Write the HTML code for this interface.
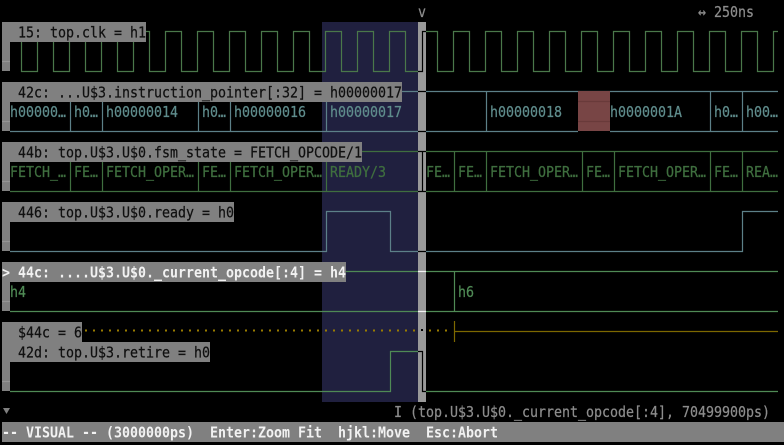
<!DOCTYPE html>
<html><head><meta charset="utf-8"><style>
html,body{margin:0;padding:0;background:#000;width:784px;height:445px;overflow:hidden}
svg{display:block}
text{font-family:"DejaVu Sans Mono","Liberation Mono",monospace;font-size:15.5px;stroke-width:.25px}
.l{fill:#101010;stroke:#101010}.t{fill:#5f8c8c;stroke:#5f8c8c}.g{fill:#3f6f3f;stroke:#3f6f3f}.o{fill:#4f8a55;stroke:#4f8a55}.d{fill:#8c8c8c;stroke:#8c8c8c}
.b{fill:#f2f2f2;font-weight:bold}
path.w,line{fill:none;stroke-width:1.2px}
</style></head><body>
<svg width="784" height="445" viewBox="0 0 784 445" xmlns="http://www.w3.org/2000/svg">
<rect x="322" y="22" width="96" height="380" fill="#20203f"/>

<!-- clk -->
<path class="w" stroke="#4a784a" d="M10 31.5H21.5
v40h16v-40h16 v40h16v-40h16 v40h16v-40h16 v40h16v-40h16 v40h16v-40h16
v40h16v-40h16 v40h16v-40h16 v40h16v-40h16 v40h16v-40h16 v40h16v-40h16
v40h16v-40h16 v40h16v-40h16 v40h16v-40h16 v40h16v-40h16 v40h16v-40h16
v40h16v-40h16 v40h16v-40h16 v40h16v-40h16 v40h16v-40h16 v40h16v-40h16
v40h16v-40h16 v40h16v-40h16 v40h16v-40h16
v40h16v-40h4.5"/>

<!-- bus -->
<path class="w" stroke="#5c8088" d="M10 91.5H778M10 131.5H778M70.5 91v40M102.5 91v40M198.5 91v40M230.5 91v40M326.5 91v40M486.5 91v40M710.5 91v40M742.5 91v40"/>
<rect x="578" y="130" width="32" height="3" fill="#000"/>
<rect x="578" y="91" width="32" height="40" fill="#784545"/>
<path class="w" d="M578 101.5H610M578 121.5H610" stroke="#693a3a"/>
<text class="t" x="10" y="117" textLength="56" lengthAdjust="spacingAndGlyphs">h00000…</text>
<text class="t" x="74" y="117" textLength="24" lengthAdjust="spacingAndGlyphs">h0…</text>
<text class="t" x="106" y="117" textLength="72" lengthAdjust="spacingAndGlyphs">h00000014</text>
<text class="t" x="202" y="117" textLength="24" lengthAdjust="spacingAndGlyphs">h0…</text>
<text class="t" x="234" y="117" textLength="72" lengthAdjust="spacingAndGlyphs">h00000016</text>
<text class="t" x="330" y="117" textLength="72" lengthAdjust="spacingAndGlyphs">h00000017</text>
<text class="t" x="490" y="117" textLength="72" lengthAdjust="spacingAndGlyphs">h00000018</text>
<text class="t" x="610" y="117" textLength="72" lengthAdjust="spacingAndGlyphs">h0000001A</text>
<text class="t" x="714" y="117" textLength="24" lengthAdjust="spacingAndGlyphs">h0…</text>
<text class="t" x="746" y="117" textLength="32" lengthAdjust="spacingAndGlyphs">h00…</text>

<!-- fsm -->
<path class="w" stroke="#3f6f3f" d="M10 151.5H778M10 191.5H778M70.5 151v40M102.5 151v40M198.5 151v40M230.5 151v40M326.5 151v40M422.5 151v40M454.5 151v40M486.5 151v40M582.5 151v40M614.5 151v40M710.5 151v40M742.5 151v40"/>
<text class="g" x="10" y="177" textLength="56" lengthAdjust="spacingAndGlyphs">FETCH_…</text>
<text class="g" x="74" y="177" textLength="24" lengthAdjust="spacingAndGlyphs">FE…</text>
<text class="g" x="106" y="177" textLength="88" lengthAdjust="spacingAndGlyphs">FETCH_OPER…</text>
<text class="g" x="202" y="177" textLength="24" lengthAdjust="spacingAndGlyphs">FE…</text>
<text class="g" x="234" y="177" textLength="88" lengthAdjust="spacingAndGlyphs">FETCH_OPER…</text>
<text class="g" x="330" y="177" textLength="56" lengthAdjust="spacingAndGlyphs">READY/3</text>
<text class="g" x="426" y="177" textLength="24" lengthAdjust="spacingAndGlyphs">FE…</text>
<text class="g" x="458" y="177" textLength="24" lengthAdjust="spacingAndGlyphs">FE…</text>
<text class="g" x="490" y="177" textLength="88" lengthAdjust="spacingAndGlyphs">FETCH_OPER…</text>
<text class="g" x="586" y="177" textLength="24" lengthAdjust="spacingAndGlyphs">FE…</text>
<text class="g" x="618" y="177" textLength="88" lengthAdjust="spacingAndGlyphs">FETCH_OPER…</text>
<text class="g" x="714" y="177" textLength="24" lengthAdjust="spacingAndGlyphs">FE…</text>
<text class="g" x="746" y="177" textLength="32" lengthAdjust="spacingAndGlyphs">REA…</text>

<!-- ready -->
<path class="w" stroke="#5c8088" d="M10 251.5H326.5V211.5H390.5V251.5H742.5V211.5H778"/>

<!-- opcode -->
<path class="w" stroke="#4f8a55" d="M10 271.5H778M10 311.5H778M454.5 271v40"/>
<text class="o" x="10" y="297" textLength="16" lengthAdjust="spacingAndGlyphs">h4</text>
<text class="o" x="458" y="297" textLength="16" lengthAdjust="spacingAndGlyphs">h6</text>

<!-- $44c -->
<line x1="85" y1="330.5" x2="450" y2="330.5" stroke="#9a7c00" style="stroke-width:2px" stroke-dasharray="2 6"/>
<path class="w" stroke="#7d6800" d="M454.5 321v21M454 331.5H778"/>

<!-- retire -->
<path class="w" stroke="#4f8a55" d="M10 391.5H390.5V351.5H422.5V391.5H778"/>

<!-- cursor -->
<rect x="418" y="22" width="8" height="380" fill="#999"/>
<path class="w" stroke="#000" d="M418 71.5H422.5V31.5H426M418 91.5H426M418 131.5H426M418 151.5H426M418 191.5H426M422.5 151v40M418 251.5H426M418 351.5H422.5V391.5H426"/>
<path class="w" stroke="#f4f4f4" d="M418 271.5H426M418 311.5H426"/>
<rect x="421" y="329" width="2" height="2" fill="#000"/>

<!-- gutters -->
<g fill="#808080">
<rect x="2" y="22" width="8" height="49"/><rect x="2" y="82" width="8" height="49"/><rect x="2" y="142" width="8" height="49"/><rect x="2" y="202" width="8" height="49"/><rect x="2" y="262" width="8" height="49"/><rect x="2" y="322" width="8" height="69"/>
<rect x="2" y="22" width="144" height="20"/>
<rect x="2" y="82" width="400" height="20"/>
<rect x="2" y="142" width="360" height="20"/>
<rect x="2" y="202" width="232" height="20"/>
<rect x="2" y="262" width="344" height="20"/>
<rect x="2" y="322" width="80" height="20"/>
<rect x="2" y="342" width="208" height="20"/>
</g>
<path class="w" stroke="#959595" d="M2 61.5H10M2 121.5H10M2 181.5H10M2 241.5H10M2 301.5H10M2 381.5H10"/>

<text class="l" x="18" y="37.5" textLength="128" lengthAdjust="spacingAndGlyphs">15: top.clk = h1</text>
<text class="l" x="18" y="97.5" textLength="384" lengthAdjust="spacingAndGlyphs">42c: ...U$3.instruction_pointer[:32] = h00000017</text>
<text class="l" x="18" y="157.5" textLength="344" lengthAdjust="spacingAndGlyphs">44b: top.U$3.U$0.fsm_state = FETCH_OPCODE/1</text>
<text class="l" x="18" y="217.5" textLength="216" lengthAdjust="spacingAndGlyphs">446: top.U$3.U$0.ready = h0</text>
<text class="b" x="2" y="277.5" textLength="344" lengthAdjust="spacingAndGlyphs">&gt; 44c: ....U$3.U$0._current_opcode[:4] = h4</text>
<text class="l" x="18" y="337.5" textLength="64" lengthAdjust="spacingAndGlyphs">$44c = 6</text>
<text class="l" x="18" y="357.5" textLength="192" lengthAdjust="spacingAndGlyphs">42d: top.U$3.retire = h0</text>

<!-- top -->
<text class="d" x="418" y="17" textLength="8" lengthAdjust="spacingAndGlyphs">v</text>
<text class="d" x="698" y="17" textLength="8" lengthAdjust="spacingAndGlyphs">↔</text>
<text class="d" x="714" y="17" textLength="40" lengthAdjust="spacingAndGlyphs">250ns</text>

<!-- bottom -->
<path d="M3 408H10L6.5 414Z" fill="#808080"/>
<text class="d" x="394" y="417" textLength="376" lengthAdjust="spacingAndGlyphs">I (top.U$3.U$0._current_opcode[:4], 70499900ps)</text>
<rect x="2" y="422" width="782" height="20" fill="#808080"/>
<text class="b" x="2" y="437.5" textLength="192" lengthAdjust="spacingAndGlyphs">-- VISUAL -- (3000000ps)</text>
<text class="b" x="210" y="437.5" textLength="112" lengthAdjust="spacingAndGlyphs">Enter:Zoom Fit</text>
<text class="b" x="338" y="437.5" textLength="72" lengthAdjust="spacingAndGlyphs">hjkl:Move</text>
<text class="b" x="426" y="437.5" textLength="72" lengthAdjust="spacingAndGlyphs">Esc:Abort</text>
</svg>
</body></html>
